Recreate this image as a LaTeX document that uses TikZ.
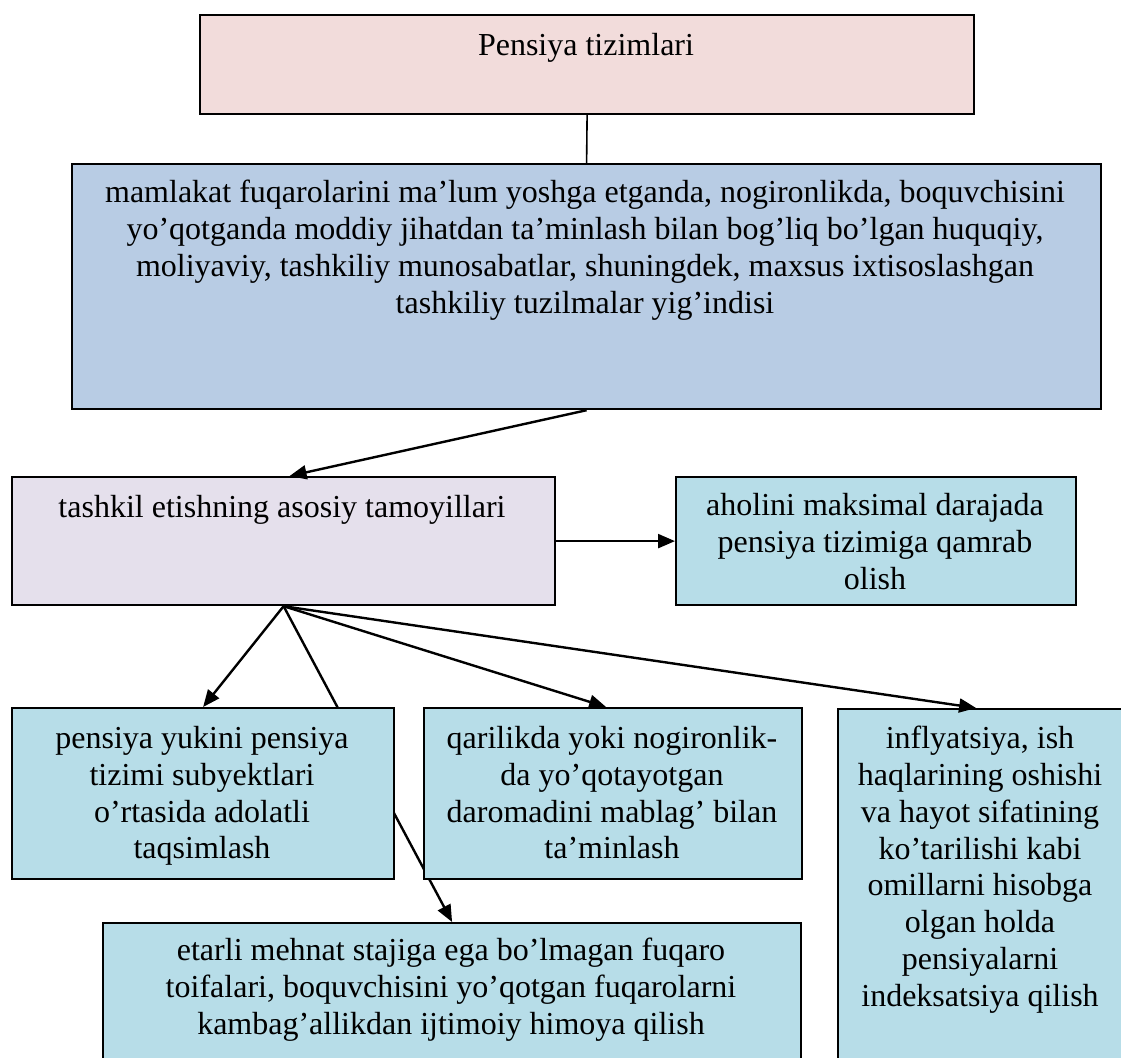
\documentclass[tikz,border=0pt]{standalone}
\usepackage{fontspec}
\setmainfont{Liberation Serif}
\usetikzlibrary{arrows.meta}
\pgfdeclarelayer{bg}
\pgfsetlayers{bg,main}
\definecolor{cPink}{HTML}{F2DCDB}
\definecolor{cBlue}{HTML}{B8CCE4}
\definecolor{cLav}{HTML}{E5E0EC}
\definecolor{cAqua}{HTML}{B7DDE8}
\begin{document}
\begin{tikzpicture}[x=1pt,y=-1pt,
  box/.style={draw=black, line width=2.2pt, rectangle, inner sep=0pt, anchor=north west},
  txt/.style={anchor=north, align=center, inner sep=0pt, font=\fontsize{32}{36.8}\selectfont},
  conn/.style={line width=2.4pt, draw=black},
  arr/.style={conn, -{Triangle[length=17pt,width=14pt]}}
]
\useasboundingbox (0,0) rectangle (1121,1057);
\begin{pgfonlayer}{bg}
\fill[white] (0,0) rectangle (1121,1057);
\end{pgfonlayer}
\clip (0,0) rectangle (1121,1057);

% boxes
\node[box, fill=cPink, minimum width=774, minimum height=99] (top) at (199,14) {};
\node[box, fill=cBlue, minimum width=1029, minimum height=245] (blue) at (71,163) {};
\node[box, fill=cLav, minimum width=543, minimum height=128] (lav) at (11,476) {};
\node[box, fill=cAqua, minimum width=400, minimum height=128] (aho) at (675,476) {};
\node[box, fill=cAqua, minimum width=382, minimum height=171] (b1) at (11,707) {};
\node[box, fill=cAqua, minimum width=378, minimum height=171] (b2) at (423,707) {};
\node[box, fill=cAqua, minimum width=286, minimum height=380] (b3) at (837,708) {};
\node[box, fill=cAqua, minimum width=698, minimum height=160] (b4) at (102,922) {};

% texts
\node[txt] (ttop) at (586,33) {Pensiya tizimlari};
\node[txt] (tblue) at (585,180) {mamlakat fuqarolarini ma’lum yoshga etganda, nogironlikda, boquvchisini\\
yo’qotganda moddiy jihatdan ta’minlash bilan bog’liq bo’lgan huquqiy,\\
moliyaviy, tashkiliy munosabatlar, shuningdek, maxsus ixtisoslashgan\\
tashkiliy tuzilmalar yig’indisi};
\node[txt] (tlav) at (282,495) {tashkil etishning asosiy tamoyillari};
\node[txt] (taho) at (875,493) {aholini maksimal darajada\\ pensiya tizimiga qamrab\\ olish};
\node[txt] (tb1) at (202,726) {pensiya yukini pensiya\\ tizimi subyektlari\\ o’rtasida adolatli\\ taqsimlash};
\node[txt] (tb2) at (612,726) {qarilikda yoki nogironlik-\\ da yo’qotayotgan\\ daromadini mablag’ bilan\\ ta’minlash};
\node[txt] (tb3) at (980,726) {inflyatsiya, ish\\ haqlarining oshishi\\ va hayot sifatining\\ ko’tarilishi kabi\\ omillarni hisobga\\ olgan holda\\ pensiyalarni\\ indeksatsiya qilish};
\node[txt] (tb4) at (451,938) {etarli mehnat stajiga ega bo’lmagan fuqaro\\ toifalari, boquvchisini yo’qotgan fuqarolarni\\ kambag’allikdan ijtimoiy himoya qilish};

% connectors
\draw[conn, line width=1.6pt] (top.south) -- (blue.north);
\draw[arr] (blue.south) -- ([xshift=6]lav.north);
\draw[arr] (lav.east) -- (aho.west);
\draw[arr] (lav.south) -- (b1.north);
\draw[arr] (lav.south) -- ([xshift=-7]b2.north);
\draw[arr] (lav.south) -- ([xshift=-5]b3.north);
\begin{pgfonlayer}{bg}
\draw[arr] (lav.south) -- (b4.north);
\end{pgfonlayer}
\end{tikzpicture}
\end{document}
